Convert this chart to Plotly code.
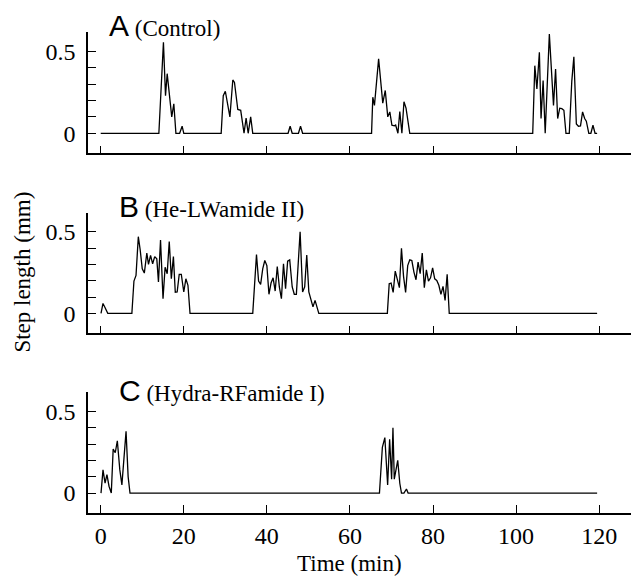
import plotly.graph_objects as go

# ---- data (time in min, step length in mm) ----
a_t = [0, 14.0, 15.1, 15.6, 16.0, 17.1, 17.6, 18.1, 19.0, 19.6, 20.0, 29.0, 29.5, 30.0, 31.1, 31.8, 32.2,
       33.0, 33.7, 34.5, 35.0, 35.5, 36.1, 36.6, 45.1, 45.6, 46.1, 47.6, 48.1, 48.6, 65.2, 65.5, 65.9,
       66.9, 67.9, 68.5, 69.1, 69.6, 70.1, 70.7, 71.0, 71.55, 72.0, 72.5, 73.0, 73.5, 74.4, 104.0, 104.5,
       105.0, 105.6, 106.0, 106.5, 107.0, 108.0, 109.0, 109.5, 110.0, 110.5, 111.0, 111.5, 112.0, 112.8,
       113.4, 113.9, 114.5, 115.0, 115.5, 116.0, 116.5, 116.9, 117.5, 118.0, 118.5, 119.0, 119.5]
a_y = [0, 0, 0.555, 0.229, 0.363, 0.10, 0.18, 0, 0, 0.043, 0, 0, 0.229, 0.256, 0.10, 0.325, 0.31,
       0.145, 0.14, 0, 0.092, 0, 0.10, 0, 0, 0.043, 0, 0, 0.043, 0, 0, 0.22, 0.17,
       0.453, 0.184, 0.261, 0.10, 0.13, 0.049, 0.045, 0.05, 0, 0.133, 0, 0.192, 0.153, 0, 0, 0.412,
       0.27, 0.494, 0.09, 0.322, 0.0, 0.604, 0.17, 0.392, 0.09, 0.153, 0.15, 0.14, 0, 0,
       0.316, 0.466, 0.057, 0.043, 0.045, 0.13, 0.09, 0.074, 0, 0, 0.049, 0, 0]

b_t = [0.07, 0.55, 1.0, 1.7, 7.5, 8.0, 8.5, 9.05, 9.5, 10.0, 10.5, 11.1, 11.5, 12.0, 12.5, 13.0, 13.5,
       13.9, 14.4, 15.0, 15.5, 16.0, 16.5, 17.0, 17.5, 17.95, 18.4, 18.9, 19.4, 20.0, 20.5, 21.0, 21.5,
       36.6, 37.5, 38.0, 38.5, 39.0, 39.5, 40.0, 40.5, 41.0, 41.5, 42.0, 42.5, 43.0, 43.5, 44.0, 44.5,
       45.0, 45.5, 46.1, 46.6, 47.1, 48.0, 48.6, 49.1, 49.6, 50.1, 50.6, 51.1, 51.6, 52.1, 52.5,
       69.0, 69.45, 69.9, 70.4, 70.9, 71.4, 71.9, 72.4, 72.9, 73.4, 73.9, 74.4, 74.9, 75.4, 75.9, 76.4,
       76.9, 77.4, 77.9, 78.4, 78.9, 79.4, 79.9, 80.4, 80.9, 81.4, 81.9, 82.4, 82.9, 83.4, 83.9, 119.5]
b_y = [0, 0.061, 0.038, 0, 0, 0.198, 0.233, 0.47, 0.39, 0.273, 0.247, 0.37, 0.30, 0.356, 0.304, 0.348, 0.334,
       0.193, 0.449, 0.09, 0.283, 0.243, 0.441, 0.212, 0.348, 0.129, 0.131, 0.239, 0.239, 0.131, 0.212, 0.172, 0,
       0, 0.36, 0.198, 0.178, 0.273, 0.324, 0.293, 0.117, 0.186, 0.218, 0.137, 0.287, 0.162, 0.09, 0.304, 0.152,
       0.32, 0.328, 0.162, 0.117, 0.117, 0.50, 0.131, 0.162, 0.358, 0.131, 0.09, 0.04, 0.08, 0.04, 0,
       0, 0.182, 0.186, 0.129, 0.259, 0.198, 0.158, 0.399, 0.227, 0.129, 0.293, 0.328, 0.324, 0.253, 0.206, 0.314,
       0.243, 0.37, 0.158, 0.267, 0.198, 0.218, 0.279, 0.212, 0.202, 0.172, 0.117, 0.166, 0.08, 0.239, 0, 0]

c_t = [0.07, 0.55, 1.05, 1.5, 2.0, 2.55, 3.0, 3.5, 4.0, 4.6, 5.1, 6.1, 6.6, 7.05, 67.1, 67.8, 68.4,
       69.07, 69.55, 70.03, 70.35, 70.67, 71.5, 72.0, 72.4, 73.0, 73.6, 74.0, 119.5]
c_y = [0, 0.142, 0.061, 0.113, 0.042, 0, 0.269, 0.247, 0.32, 0.142, 0.05, 0.378, 0.101, 0, 0, 0.28, 0.34,
       0.05, 0.33, 0.085, 0.40, 0.085, 0.20, 0.06, 0, 0, 0.025, 0, 0]

panel_letters = ["A", "B", "C"]
panel_names = ["(Control)", "(He-LWamide II)", "(Hydra-RFamide I)"]
x_ticks = [0, 20, 40, 60, 80, 100, 120]
y_ticks = [0, 0.1, 0.2, 0.3, 0.4, 0.5]
y_ticktext = ["0", "", "", "", "", "0.5"]

SERIF = "Liberation Serif, Times New Roman, serif"
SANS = "Liberation Sans, Arial, sans-serif"

fig = go.Figure()
series = [(a_t, a_y), (b_t, b_y), (c_t, c_y)]
for i, (t, y) in enumerate(series):
    sfx = "" if i == 0 else str(i + 1)
    fig.add_trace(go.Scatter(x=t, y=y, mode="lines", xaxis="x" + sfx, yaxis="y" + sfx,
                             line=dict(color="black", width=1.3), showlegend=False, hoverinfo="skip"))

domains = [[0.7478, 1.0], [0.3736, 0.6243], [0.0, 0.2509]]
xr = [-3.06, 129.1]
yr = [-0.122, 0.617]
layout = dict(
    width=631, height=569,
    margin=dict(l=80, r=2, t=24, b=64, autoexpand=False),
    paper_bgcolor="white", plot_bgcolor="white",
    font=dict(family=SERIF, size=22, color="black"),
)
for i in range(3):
    sfx = "" if i == 0 else str(i + 1)
    layout["xaxis" + sfx] = dict(
        domain=[0, 1], range=xr, anchor="y" + sfx,
        showline=True, linecolor="black", linewidth=1.5,
        ticks="inside", ticklen=8, tickwidth=1.2, tickcolor="black",
        tickvals=x_ticks, showticklabels=(i == 2), showgrid=False, zeroline=False,
        tickfont=dict(family=SERIF, size=24, color="black"),
    )
    layout["yaxis" + sfx] = dict(
        domain=domains[i], range=yr, anchor="x" + sfx,
        showline=True, linecolor="black", linewidth=1.5,
        ticks="inside", ticklen=8, tickwidth=1.2, tickcolor="black",
        tickvals=y_ticks, ticktext=y_ticktext, showgrid=False, zeroline=False,
        tickfont=dict(family=SERIF, size=24, color="black"),
        ticklabelstandoff=6,
    )
fig.update_layout(**layout)

label_x = [1.6, 3.9, 3.9]
label_y = [0.541, 0.544, 0.514]
for i in range(3):
    sfx = "" if i == 0 else str(i + 1)
    fig.add_annotation(
        xref="x" + sfx, yref="y" + sfx, x=label_x[i], y=label_y[i],
        xanchor="left", yanchor="bottom", showarrow=False,
        text=f"<span style='font-family:{SANS};font-size:30px'>{panel_letters[i]}</span> {panel_names[i]}",
        font=dict(family=SERIF, size=23, color="black"),
    )

fig.add_annotation(xref="paper", yref="paper", x=-0.12, y=0.5, textangle=-90,
                   xanchor="center", yanchor="middle",
                   text="Step length (mm)", showarrow=False,
                   font=dict(family=SERIF, size=23, color="black"))
fig.add_annotation(xref="x3", yref="paper", x=60, y=0, yshift=-50, yanchor="middle",
                   xanchor="center",
                   text="Time (min)", showarrow=False,
                   font=dict(family=SERIF, size=23, color="black"))

fig.write_html("out.html")
